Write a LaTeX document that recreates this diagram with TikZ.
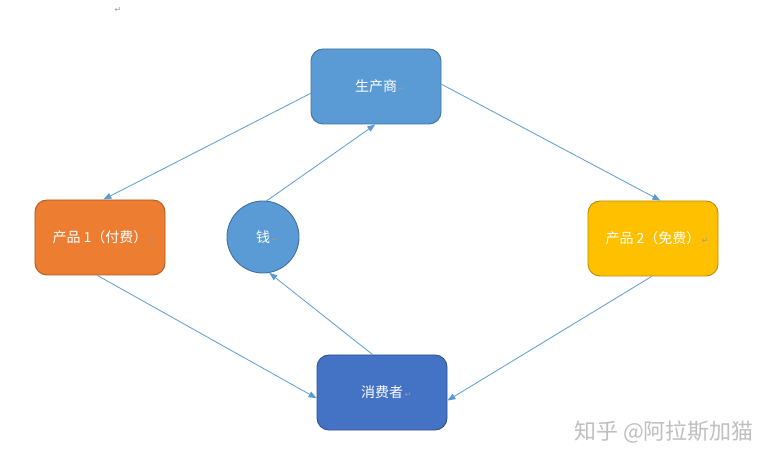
\documentclass[tikz,border=0pt]{standalone}
\usepackage{fontspec}
\setmainfont{Noto Sans CJK SC}
\newfontfamily\symfont{DejaVu Sans}
\usetikzlibrary{arrows.meta}
\definecolor{makerblue}{HTML}{5B9BD5}
\definecolor{makeredge}{HTML}{41719C}
\definecolor{paidorange}{HTML}{ED7D31}
\definecolor{paidedge}{HTML}{AE5A21}
\definecolor{freegold}{HTML}{FFC000}
\definecolor{freeedge}{HTML}{BC8C00}
\definecolor{buyerblue}{HTML}{4472C4}
\definecolor{buyeredge}{HTML}{2F528F}
\definecolor{linkblue}{HTML}{5B9BD5}
\definecolor{markgray}{HTML}{9A9A9A}
\newcommand{\pmark}{\rlap{\hspace{1.5bp}\symfont\fontsize{8bp}{8bp}\selectfont\color{markgray}↵}}
\begin{document}
\begin{tikzpicture}[x=1bp,y=-1bp,
  box/.style={draw,line width=0.9bp,rounded corners=12bp,minimum width=130bp,minimum height=75bp,
    inner sep=0pt,text=white,font=\fontsize{14bp}{17bp}\selectfont},
  coin/.style={draw,circle,line width=0.9bp,minimum size=72bp,inner sep=0pt,text=white,
    font=\fontsize{14bp}{17bp}\selectfont},
  flow/.style={draw=linkblue,line width=0.8bp,-{Triangle[length=8bp,width=6bp]}}]
\useasboundingbox (0,0) rectangle (778,464);

%\node at (116,0) {};
\node[text=markgray,font=\symfont\fontsize{8bp}{8bp}\selectfont] (top) at (118,10) {↵};

\node[box,fill=makerblue,draw=makeredge] (sc) at (376,86.5) {生产商\pmark};
\node[box,fill=paidorange,draw=paidedge] (p1) at (100,237.5) {产品 1（付费）\pmark};
\node[box,fill=freegold,draw=freeedge] (p2) at (653,238.5) {产品 2（免费）\pmark};
\node[coin,fill=makerblue,draw=makeredge] (qian) at (263,237) {钱\pmark};
\node[box,fill=buyerblue,draw=buyeredge] (xf) at (382,392.5) {消费者\pmark};

\foreach \a/\b in {sc.186/p1.85, sc.2/p2.79, p1.266/xf.185, p2.268/xf.-7, xf.104/qian.-80, qian.84/sc.-91}
  { \draw[flow] (\a) -- (\b); }

\node[text=black!25,font=\fontsize{22bp}{24bp}\selectfont] (mark) at (664,432) {知乎 @阿拉斯加猫};

\end{tikzpicture}
\end{document}
